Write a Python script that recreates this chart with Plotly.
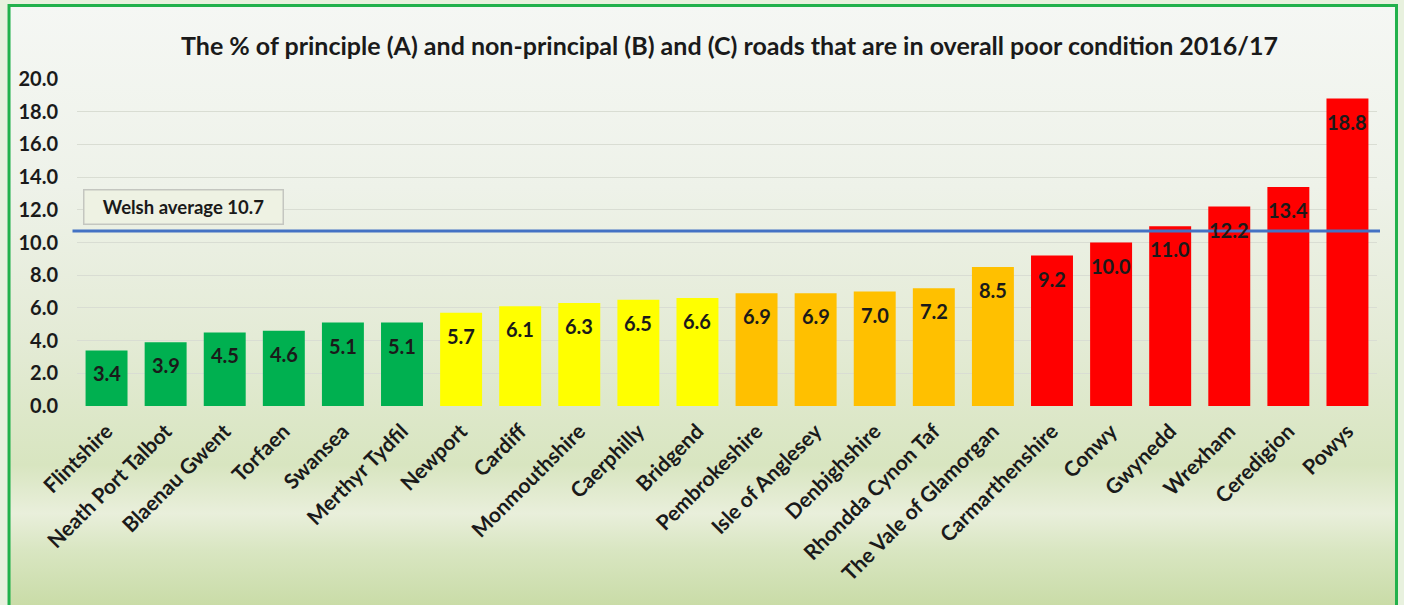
import base64
import plotly.graph_objects as go

# Local authorities, ordered from best to worst road condition
authorities = [
    "Flintshire", "Neath Port Talbot", "Blaenau Gwent", "Torfaen", "Swansea",
    "Merthyr Tydfil", "Newport", "Cardiff", "Monmouthshire", "Caerphilly",
    "Bridgend", "Pembrokeshire", "Isle of Anglesey", "Denbighshire",
    "Rhondda Cynon Taf", "The Vale of Glamorgan", "Carmarthenshire", "Conwy",
    "Gwynedd", "Wrexham", "Ceredigion", "Powys",
]
pct_poor = [
    3.4, 3.9, 4.5, 4.6, 5.1, 5.1, 5.7, 6.1, 6.3, 6.5, 6.6,
    6.9, 6.9, 7.0, 7.2, 8.5, 9.2, 10.0, 11.0, 12.2, 13.4, 18.8,
]
band = [
    "low", "low", "low", "low", "low", "low",
    "mid", "mid", "mid", "mid", "mid",
    "high", "high", "high", "high", "high",
    "worst", "worst", "worst", "worst", "worst", "worst",
]
welsh_average = 10.7
y_ticks = [0, 2, 4, 6, 8, 10, 12, 14, 16, 18, 20]

band_colours = {"low": "#00b050", "mid": "#ffff00", "high": "#ffc000", "worst": "#ff0000"}

W, H = 1404, 605
PL, PR, PT, PB = 76.5, 1377.0, 79.0, 406.0  # plot area in pixels


def px_x(px):
    return (px - PL) / (PR - PL)


def px_y(py):
    return (PB - py) / (PB - PT)


FONT = "Lato"
TXT = "#1a1a1a"

fig = go.Figure()
fig.add_trace(go.Bar(
    x=authorities,
    y=pct_poor,
    marker=dict(color=[band_colours[b] for b in band], line=dict(width=0)),
    hoverinfo="x+y",
))

# Value labels sit just inside the top of each bar
annotations = []
for name, v in zip(authorities, pct_poor):
    annotations.append(dict(
        x=name, y=v, xref="x", yref="y", text=f"{v:.1f}", showarrow=False,
        yanchor="middle", yshift=-23,
        font=dict(family=FONT, size=20, color=TXT, weight="bold"),
    ))

annotations.append(dict(
    x=px_x(729), y=px_y(45), xref="paper", yref="paper",
    text="The % of principle (A) and non-principal (B) and (C) roads that are in overall poor condition 2016/17",
    showarrow=False, xanchor="center", yanchor="middle",
    font=dict(family=FONT, size=25, color=TXT, weight="bold"),
))

annotations.append(dict(
    x=px_x(183), y=px_y(207), xref="paper", yref="paper",
    text=f"Welsh average {welsh_average}", showarrow=False,
    xanchor="center", yanchor="middle", width=196, height=31,
    bgcolor="#eef2e3", bordercolor="#c4c6c0", borderwidth=1.5, borderpad=1,
    font=dict(family=FONT, size=18.5, color=TXT, weight="bold"),
))

shapes = [
    # Welsh average line
    dict(type="line", xref="paper", yref="y", x0=px_x(72), x1=px_x(1380),
         y0=welsh_average, y1=welsh_average,
         line=dict(color="#4472c4", width=3), layer="above"),
    # Frame
    dict(type="rect", xref="paper", yref="paper",
         x0=px_x(8.5), x1=px_x(1396.5), y0=px_y(640), y1=px_y(5.5),
         line=dict(color="#22b14c", width=3), layer="above"),
]

# Soft vertical gradient inside the frame
stops = [
    (0.00, "#f5f7f4"), (0.30, "#eef2e9"), (0.55, "#e4ebd6"),
    (0.76, "#d8e5c0"), (0.84, "#e9efdb"), (0.90, "#d9e6c2"), (1.00, "#c8dba5"),
]
stop_xml = "".join(f'<stop offset="{o}" stop-color="{c}"/>' for o, c in stops)
svg = (
    '<svg xmlns="http://www.w3.org/2000/svg" width="100" height="100" preserveAspectRatio="none">'
    f'<defs><linearGradient id="g" x1="0" y1="0" x2="0" y2="1">{stop_xml}</linearGradient></defs>'
    '<rect width="100" height="100" fill="url(#g)"/></svg>'
)
bg_src = "data:image/svg+xml;base64," + base64.b64encode(svg.encode()).decode()

fig.update_layout(
    width=W, height=H,
    margin=dict(l=PL, r=W - PR, t=PT, b=H - PB, pad=0),
    paper_bgcolor="#e8f1de",
    plot_bgcolor="rgba(0,0,0,0)",
    bargap=0.29,
    showlegend=False,
    annotations=annotations,
    shapes=shapes,
    images=[dict(
        source=bg_src, xref="paper", yref="paper",
        x=px_x(8.5), y=px_y(5.5), sizex=px_x(1396.5) - px_x(8.5),
        sizey=px_y(5.5) - px_y(610), xanchor="left", yanchor="top",
        sizing="stretch", layer="below",
    )],
    xaxis=dict(
        tickangle=-45, showgrid=False, showline=False, zeroline=False,
        tickfont=dict(family=FONT, size=21, color=TXT, weight="bold"),
        ticks="", ticklabelstandoff=8, fixedrange=True,
    ),
    yaxis=dict(
        range=[0, 20], tickvals=y_ticks,
        ticktext=[f"{t:.1f}" for t in y_ticks],
        showgrid=True, gridcolor="#d9ddd3", gridwidth=1,
        zeroline=False, showline=False, ticks="",
        ticklabelstandoff=18,
        tickfont=dict(family=FONT, size=20, color=TXT, weight="bold"),
        fixedrange=True,
    ),
)

fig.write_html("out.html")
